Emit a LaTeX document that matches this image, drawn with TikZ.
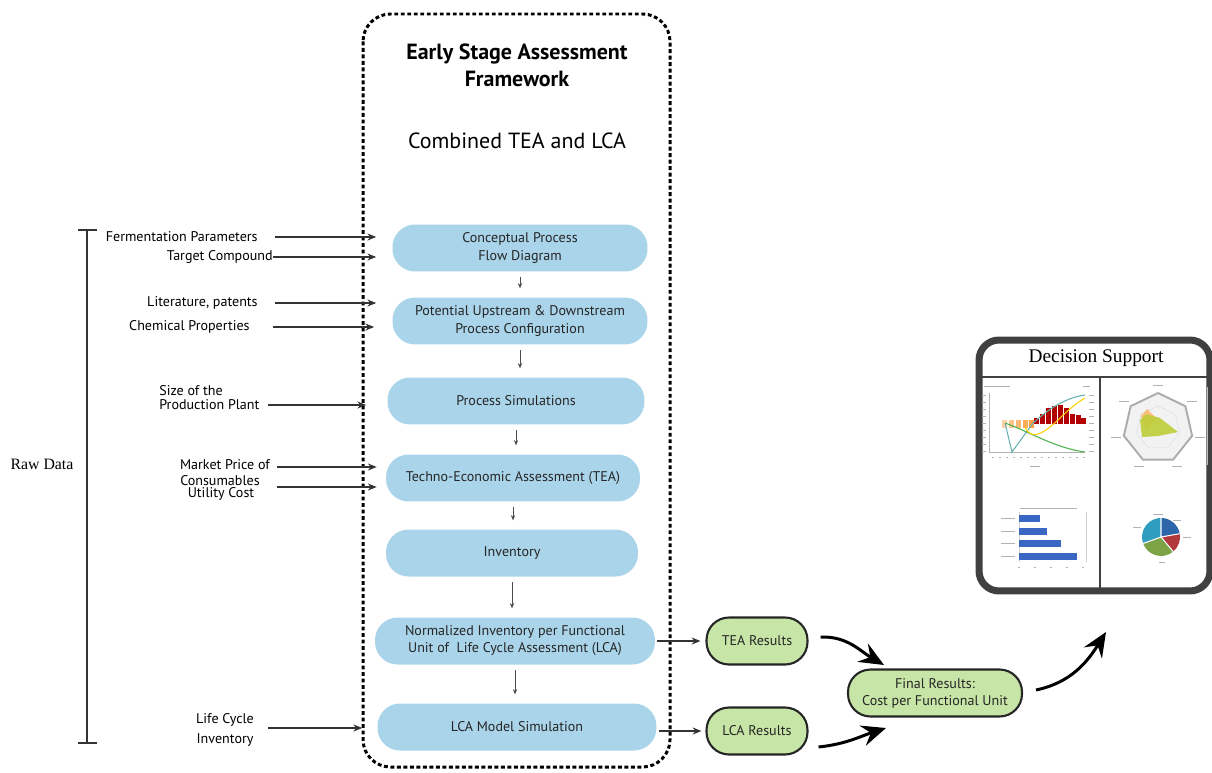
\documentclass[tikz,border=0pt]{standalone}
\usepackage{fontspec}
\setmainfont{PT Sans}
\newfontfamily\seriffont{Liberation Serif}
\usetikzlibrary{arrows.meta}
\definecolor{stageblue}{RGB}{170,212,234}
\definecolor{resgreen}{RGB}{198,229,166}
\definecolor{barblue}{RGB}{58,103,196}
\definecolor{piered}{RGB}{178,56,60}
\definecolor{piegreen}{RGB}{124,163,70}
\definecolor{pieteal}{RGB}{47,157,190}
\definecolor{pieblue}{RGB}{46,100,170}
\definecolor{radargreen}{RGB}{190,205,55}
\tikzset{
  stage/.style={fill=stageblue, rounded corners=0.45cm, minimum height=0.94cm,
    align=center, text=black!85, font=\fontsize{8}{9.7}\selectfont},
  result/.style={fill=resgreen, draw=black!85, line width=1.2pt, rounded corners=0.45cm,
    minimum height=0.94cm, align=center, text=black!85, font=\fontsize{8}{9.7}\selectfont},
  rawlabel/.style={inner sep=0pt, align=center, font=\fontsize{8}{8}\selectfont},
  feed/.style={-{Stealth[length=5pt,width=4pt]}, line width=0.8pt, black!80},
  down/.style={-{Stealth[length=3pt,width=2.4pt]}, line width=0.4pt, black!70,
    shorten <=3pt, shorten >=5pt},
  bigarrow/.style={-{Stealth[length=14pt,width=12pt,inset=5pt]}, line width=1.7pt},
  frame/.style={line width=1.7pt, dash pattern=on 2.2pt off 1.5pt, rounded corners=0.55cm},
  tiny/.style={gray!60, line width=0.5pt}
}
\begin{document}
\begin{tikzpicture}[x=0.02cm,y=-0.02cm]
\useasboundingbox (0,0) rectangle (1212,773);

% framework column
\draw[frame] (363,14) rectangle (670,767);
\node[align=center, font=\fontsize{12.5}{15.5}\selectfont\bfseries] (title) at (517,65)
  {Early Stage Assessment\\Framework};
\node[font=\fontsize{12.5}{15}\selectfont] (subtitle) at (517,141) {Combined TEA and LCA};

\node[stage, minimum width=5.1cm]  (cpfd)   at (520,248) {Conceptual Process\\Flow Diagram};
\node[stage, minimum width=5.1cm]  (config) at (520,321) {Potential Upstream \& Downstream\\Process Configuration};
\node[stage, minimum width=5.14cm] (sim)    at (516,401) {Process Simulations};
\node[stage, minimum width=5.08cm] (tea)    at (513,478) {Techno-Economic Assessment (TEA)};
\node[stage, minimum width=5.04cm] (inv)    at (512,553) {Inventory};
\node[stage, minimum width=5.6cm]  (norm)   at (515,641) {Normalized Inventory per Functional\\Unit of\ \ Life Cycle Assessment (LCA)};
\node[stage, minimum width=5.58cm] (lcasim) at (517,727) {LCA Model Simulation};

\foreach \a/\b in {cpfd/config, config/sim, sim/tea, tea/inv, inv/norm, norm/lcasim}
  \draw[down] (\a.south) -- (\a.south |- \b.north);

% raw data inputs
\draw[line width=1.3pt, black!80] (78,230) -- (97,230) (87,230) -- (87,743) (78,743) -- (97,743);
\node[font=\seriffont\fontsize{9}{9}\selectfont] (raw) at (42,464) {Raw Data};

\node[rawlabel, anchor=east] (ferm)   at (258,237) {Fermentation Parameters};
\node[rawlabel, anchor=east] (target) at (273,257) {Target Compound};
\node[rawlabel, anchor=east] (lit)    at (258,303) {Literature, patents};
\node[rawlabel, anchor=east] (chem)   at (250,327) {Chemical Properties};
\node[rawlabel, align=left, anchor=west] (size) at (159,398) {Size of the\\Production Plant};
\node[rawlabel] (market) at (225,465) {Market Price of};
\node[rawlabel] (consum) at (220,481) {Consumables};
\node[rawlabel] (util)   at (221,494) {Utility Cost};
\node[rawlabel] (lci)    at (225,730) {Life Cycle\\[3pt]Inventory};

\coordinate (sizeout) at (268,405);
\coordinate (mktout)  at (277,467);
\coordinate (utilout) at (277,487);
\coordinate (lciout)  at (268,728);

\draw[feed, shorten <=0.34cm, shorten >=0.32cm] (ferm.east) -- (ferm.east -| cpfd.west);
\draw[feed, shorten >=0.32cm] (target.east) -- (target.east -| cpfd.west);
\draw[feed, shorten <=0.34cm, shorten >=0.32cm] (lit.east) -- (lit.east -| config.west);
\draw[feed, shorten <=0.46cm, shorten >=0.36cm] (chem.east) -- (chem.east -| config.west);
\draw[feed, shorten >=0.42cm] (sizeout) -- (sizeout -| sim.west);
\draw[feed, shorten >=0.18cm] (mktout) -- (mktout -| tea.west);
\draw[feed, shorten >=0.18cm] (utilout) -- (utilout -| tea.west);
\draw[feed, shorten >=0.3cm] (lciout) -- (lciout -| lcasim.west);

% results
\node[result, minimum width=2.02cm] (tearesult) at (757,641) {TEA Results};
\node[result, minimum width=2.02cm] (lcaresult) at (757,731) {LCA Results};
\node[result, minimum width=3.48cm] (final) at (935,693) {Final Results:\\Cost per Functional Unit};

\draw[feed, shorten <=0.04cm, shorten >=0.1cm] (norm.east) -- (norm.east -| tearesult.west);
\draw[feed, shorten <=0.04cm, shorten >=0.08cm] (lcasim.east |- lcaresult) -- (lcaresult.west);

\coordinate (tein) at (884,665);
\coordinate (lcin) at (886,728);
\coordinate (dsin) at (1106,632);
\draw[bigarrow] ([xshift=0.24cm,yshift=0.08cm]tearesult.east) to[out=2,in=150] (tein);
\draw[bigarrow] ([xshift=0.2cm,yshift=-0.32cm]lcaresult.east) to[out=6,in=198] (lcin);
\draw[bigarrow] ([xshift=0.26cm,yshift=0.06cm]final.east) to[out=12,in=238] (dsin);

% decision support panel
\node[draw=black!75, line width=4pt, rounded corners=0.4cm, fill=white,
  minimum width=4.62cm, minimum height=5.02cm] (ds) at (1094.5,465.5) {};
\node[font=\seriffont\fontsize{11}{11}\selectfont] (dstitle) at (1096,358) {Decision Support};
\coordinate (split) at (1100,377);
\draw[line width=1.2pt, black!75] (ds.west |- split) -- (ds.east |- split)
  (split) -- (split |- ds.south);

% line chart with cash flow bars
\draw[gray!60, line width=0.4pt] (989,393) -- (989,452) -- (1085,452);
\draw[tiny] (984,386) -- (1010,386) (1083,386) -- (1090,386) (1030,466) -- (1040,466);
\foreach \y in {395,402,...,452} \draw[tiny] (982,\y) -- (986,\y) (1089,\y) -- (1094,\y);
\foreach \x in {992,999,...,1085} \draw[tiny] (\x,457) -- (\x+2,457);
\foreach \x/\c in {1004/35,1011/45,1018/55,1025/65,1031/75}
  \fill[orange!\c] (\x-2.5,420) rectangle (\x+2.5,428);
\foreach \x/\t in {1036/418, 1042/414, 1048/408, 1054/406, 1060/405, 1066/408, 1072/414, 1078/415, 1083/418}
  \fill[red!70!black] (\x-2.5,424) rectangle (\x+2.5,\t);
\draw[teal!60, line width=0.6pt] (1005,423) -- (1012,452) -- (1033,423)
  .. controls (1050,408) and (1065,398) .. (1085,395);
\draw[green!40!gray, line width=0.6pt] (1005,423) .. controls (1030,432) and (1055,448) .. (1085,452);
\draw[yellow!70!orange, line width=0.6pt] (1025,427) .. controls (1032,442) and (1045,432) .. (1058,420)
  .. controls (1068,410) and (1078,402) .. (1085,398);

% radar chart
\begin{scope}[shift={(1158,428)}]
  \draw[gray!65, line width=1.1pt, fill=gray!10]
    (270:35) \foreach \k in {1,...,6} { -- ({270+\k*360/7}:35) } -- cycle;
  \draw[gray!25, line width=0.3pt]
    (270:22) \foreach \k in {1,...,6} { -- ({270+\k*360/7}:22) } -- cycle;
  \fill[orange!60, opacity=0.8] (-17,-12) -- (-11,-19) -- (-2,-10) -- (-12,2) -- cycle;
  \fill[radargreen, opacity=0.9] (-18,-8) -- (-12,-14) -- (2,-10) -- (20,4) -- (0,8) -- (-16,9) -- cycle;
  \foreach \k in {0,...,6}
    \draw[tiny] ({270+\k*360/7}:43) ++(-5,0) -- ++(10,0);
\end{scope}
\draw[gray!50, line width=0.5pt] (1207,387) -- (1207,465);

% bar chart
\draw[tiny] (1020,508) -- (1077,508);
\draw[gray!35, line width=0.3pt] (1019,512) -- (1019,562) (1086,512) -- (1086,562);
\foreach \y/\e in {518/1040, 531/1047, 543/1061, 556/1077} {
  \fill[barblue] (1019,\y-3.5) rectangle (\e,\y+3.5);
  \draw[tiny] (1001,\y) -- (1015,\y);
}
\foreach \x in {1019,1035,1051,1067,1083} \draw[tiny] (\x-1,567) -- (\x+1,567);

% pie chart
\begin{scope}[shift={(1161,537)}]
  \fill[pieblue]  (0,0) -- (-90:19) arc[start angle=-90, end angle=-10, radius=19] -- cycle;
  \fill[piered]   (0,0) -- (-10:19) arc[start angle=-10, end angle=50, radius=19] -- cycle;
  \fill[piegreen] (0,0) -- (50:19) arc[start angle=50, end angle=160, radius=19] -- cycle;
  \fill[pieteal]  (0,0) -- (160:19) arc[start angle=160, end angle=270, radius=19] -- cycle;
  \draw[white, line width=0.6pt] (0,0) -- (-90:19) (0,0) -- (-10:19) (0,0) -- (50:19) (0,0) -- (160:19);
  \draw[tiny] (-8,-23) -- (2,-23) (12,-17) -- (20,-17) (22,0) -- (30,0) (-2,25) -- (4,25) (-28,-10) -- (-20,-10);
\end{scope}
\end{tikzpicture}
\end{document}
